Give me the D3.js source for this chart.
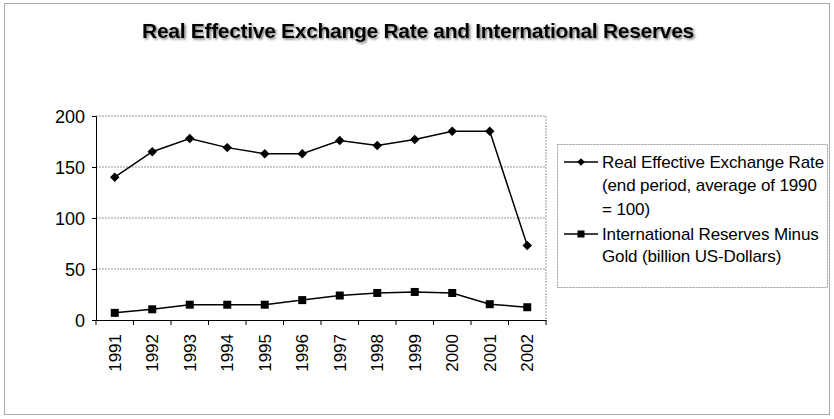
<!DOCTYPE html>
<html><head><meta charset="utf-8">
<script src="https://cdn.jsdelivr.net/npm/d3@7"></script>
<style>body{margin:0;background:#fff}svg{display:block}</style>
</head><body>
<svg id="c" width="834" height="419"></svg>
<script>
const years = ["1991","1992","1993","1994","1995","1996","1997","1998","1999","2000","2001","2002"];
const reer = [140,165,178,169,163,163,176,171,177,185,185,73];
const reserves = [7,10.5,15,15,15,19.5,24,26.5,27.5,26.5,15.5,12.5];
const yTicks = [0,50,100,150,200];
const title = "Real Effective Exchange Rate and International Reserves";
const legendLabels = [["Real Effective Exchange Rate","(end period, average of 1990","= 100)"],["International Reserves Minus","Gold (billion US-Dollars)"]];

const svg = d3.select("#c");
const font = "'Liberation Sans', Arial, sans-serif";
const defs = svg.append("defs");
const f = defs.append("filter").attr("id","sh").attr("x","-5%").attr("y","-50%").attr("width","110%").attr("height","200%");
f.append("feDropShadow").attr("dx",1.5).attr("dy",1.5).attr("stdDeviation",0.8).attr("flood-color","#555").attr("flood-opacity",0.8);

svg.append("rect").attr("x",4.5).attr("y",3.5).attr("width",825).attr("height",411).attr("fill","#fff").attr("stroke","#aaa").attr("stroke-width",1);

const L=96,R=546,T=116,B=320;
const x = d3.scaleBand().domain(years).range([L,R]);
const y = d3.scaleLinear().domain([0,200]).range([B,T]);

// title
svg.append("text").attr("x",418).attr("y",38).attr("text-anchor","middle").attr("font-family",font).attr("font-weight","bold").attr("font-size",21).attr("letter-spacing",-0.3).attr("fill","#000").attr("filter","url(#sh)").text(title);

// grid
svg.append("g").selectAll("line").data(yTicks.filter(d=>d>0)).join("line")
 .attr("x1",L).attr("x2",R).attr("y1",d=>y(d)).attr("y2",d=>y(d)).attr("stroke","#999").attr("stroke-width",1).attr("stroke-dasharray","2,1");
svg.append("line").attr("x1",R).attr("x2",R).attr("y1",T).attr("y2",B).attr("stroke","#999").attr("stroke-dasharray","2,1");

// axes
const ya = svg.append("g").attr("transform",`translate(${L},0)`).call(d3.axisLeft(y).tickValues(yTicks).tickSize(4).tickPadding(7));
ya.select(".domain").attr("stroke","#000");
ya.selectAll("text").attr("font-family",font).attr("font-size",18).attr("fill","#000").attr("dy","0.35em");
const xa = svg.append("g").attr("transform",`translate(0,${B})`).call(d3.axisBottom(x).tickSize(0).tickSizeOuter(0));
xa.select(".domain").attr("stroke","#000");
xa.selectAll("text").attr("font-family",font).attr("font-size",17).attr("fill","#000")
  .attr("transform","rotate(-90)").attr("text-anchor","end").attr("x",-14).attr("y",0).attr("dy","0.35em");
// tick marks between categories
svg.append("g").selectAll("line").data(years).join("line")
 .attr("x1",d=>x(d)+x.bandwidth()).attr("x2",d=>x(d)+x.bandwidth()).attr("y1",B).attr("y2",B+5).attr("stroke","#000");
svg.append("line").attr("x1",L).attr("x2",L).attr("y1",B).attr("y2",B+5).attr("stroke","#000");

const cx = d=>x(d)+x.bandwidth()/2;
const line = d3.line().x((d,i)=>cx(years[i])).y(d=>y(d));
svg.append("path").datum(reer).attr("d",line).attr("fill","none").attr("stroke","#000").attr("stroke-width",1.5);
svg.append("path").datum(reserves).attr("d",line).attr("fill","none").attr("stroke","#000").attr("stroke-width",1.5);
svg.append("g").selectAll("path").data(reer).join("path").attr("d",d3.symbol().type(d3.symbolSquare).size(45))
  .attr("transform",(d,i)=>`translate(${cx(years[i])},${y(d)}) rotate(45)`).attr("fill","#000");
svg.append("g").selectAll("rect").data(reserves).join("rect")
  .attr("x",(d,i)=>cx(years[i])-4).attr("y",d=>y(d)-4).attr("width",8).attr("height",8).attr("fill","#000");

// legend
const lg = svg.append("g");
lg.append("rect").attr("x",557.5).attr("y",144.5).attr("width",270).attr("height",143).attr("fill","#fff").attr("stroke","#999").attr("stroke-dasharray","2,1");
const rows = [162,185,209,234,256];
let r=0;
const texts=[];
legendLabels.forEach((lines,k)=>{
  const yy = rows[r];
  lg.append("line").attr("x1",564).attr("x2",598).attr("y1",yy).attr("y2",yy).attr("stroke","#000").attr("stroke-width",1.5);
  if(k===0) lg.append("path").attr("d",d3.symbol().type(d3.symbolSquare).size(30)).attr("transform",`translate(581,${yy}) rotate(45)`).attr("fill","#000");
  else lg.append("rect").attr("x",577.5).attr("y",yy-3.5).attr("width",7).attr("height",7).attr("fill","#000");
  lines.forEach(t=>{
    texts.push(lg.append("text").attr("x",602).attr("y",rows[r]).attr("dy","0.35em").attr("font-family",font).attr("font-size",17).attr("fill","#000").text(t));
    r++;
  });
});
// fit first line to reference width (~222px) by adjusting letter spacing uniformly
const w0 = texts[0].node().getComputedTextLength();
const ls = Math.max(-1, Math.min(1, (222 - w0) / texts[0].text().length));
texts.forEach(t=>t.attr("letter-spacing",ls));
</script>
</body></html>
